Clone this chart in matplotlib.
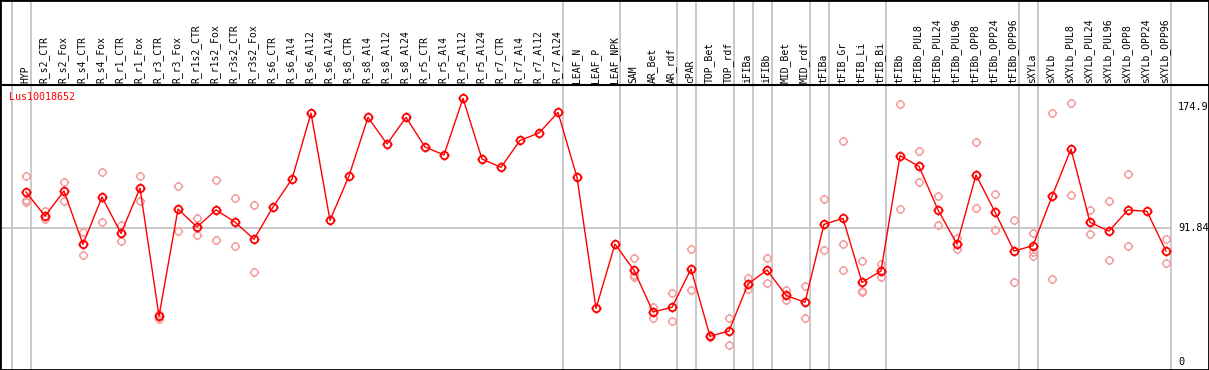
import numpy as np
import matplotlib.pyplot as plt
from matplotlib.path import Path

# tissue / sample names
labels = ["HYP", "R_s2_CTR", "R_s2_Fox", "R_s4_CTR", "R_s4_Fox", "R_r1_CTR", "R_r1_Fox",
          "R_r3_CTR", "R_r3_Fox", "R_r1s2_CTR", "R_r1s2_Fox", "R_r3s2_CTR", "R_r3s2_Fox",
          "R_s6_CTR", "R_s6_Al4", "R_s6_Al12", "R_s6_Al24", "R_s8_CTR", "R_s8_Al4",
          "R_s8_Al12", "R_s8_Al24", "R_r5_CTR", "R_r5_Al4", "R_r5_Al12", "R_r5_Al24",
          "R_r7_CTR", "R_r7_Al4", "R_r7_Al12", "R_r7_Al24", "LEAF_N", "LEAF_P", "LEAF_NPK",
          "SAM", "AR_Bet", "AR_rdf", "cPAR", "TOP_Bet", "TOP_rdf", "iFIBa", "iFIBb",
          "MID_Bet", "MID_rdf", "tFIBa", "tFIB_Gr", "tFIB_Li", "tFIB_Bi", "tFIBb",
          "tFIBb_PUL8", "tFIBb_PUL24", "tFIBb_PUL96", "tFIBb_OPP8", "tFIBb_OPP24",
          "tFIBb_OPP96", "sXYLa", "sXYLb", "sXYLb_PUL8", "sXYLb_PUL24", "sXYLb_PUL96",
          "sXYLb_OPP8", "sXYLb_OPP24", "sXYLb_OPP96"]

# mean expression
mean = [116.6, 100.1, 117.3, 80.7, 113.2, 88.2, 119.3, 31.5, 104.9, 92.6, 104.3, 96.0, 84.2,
        106.3, 125.5, 170.7, 97.2, 127.6, 167.8, 149.5, 167.8, 147.5, 142.0, 180.8, 139.2,
        133.5, 152.0, 157.1, 171.2, 126.7, 36.8, 80.9,
        62.9, 34.3, 37.5, 63.8, 17.6, 21.3, 53.5, 63.1, 45.7, 40.9, 94.4, 98.5, 54.6, 62.4,
        141.5, 134.2, 104.3, 80.9, 128.3, 102.9, 76.1, 79.8, 113.6, 146.1, 95.8, 89.8,
        104.3, 103.3, 76.1]

# replicate values
reps = [[127.4, 111.1, 109.7], [103.3, 97.9], [123.5, 110.2], [88.9, 73.4], [130.3, 95.8],
        [94.2, 82.8], [127.4, 110.2], [32.9, 29.7], [120.5, 89.6], [98.8, 86.9],
        [124.8, 83.5], [112.5, 79.6], [107.5, 61.7],
        [], [], [], [], [], [], [], [], [], [], [], [], [], [], [], [], [], [], [],
        [71.1, 60.0, 58.0], [37.5, 30.4], [47.3, 28.1], [77.5, 49.4], [18.5, 17.0],
        [30.4, 11.4], [57.6, 49.8], [71.1, 54.2], [49.6, 42.3], [52.1, 30.0],
        [111.8, 76.6], [151.3, 80.9, 62.9], [69.0, 48.7, 47.8], [67.4, 58.1],
        [177.0, 104.9], [144.7, 123.2], [113.6, 94.0], [84.8, 77.5], [150.7, 105.6],
        [115.0, 90.5], [97.4, 54.9], [88.2, 75.7, 72.9], [170.8, 56.9], [177.4, 114.3],
        [104.0, 87.6], [110.4, 69.7], [128.9, 79.6], [], [84.4, 67.9]]

# group separators (after these indices)
breaks = [-1, 0, 28, 31, 34, 35, 37, 38, 39, 41, 42, 45, 52, 53, 60]
mid_val = 91.84
max_val = 174.9

# circle marker with little ticks
circ = Path.unit_circle()
verts = list(circ.vertices)
codes = list(circ.codes)
for dx, dy in [(0, 1), (0, -1), (1, 0), (-1, 0)]:
    verts += [(dx * 1.0, dy * 1.0), (dx * 1.35, dy * 1.35)]
    codes += [Path.MOVETO, Path.LINETO]
sun = Path(verts, codes)

fig = plt.figure(figsize=(12.09, 3.70), dpi=100)
ax = fig.add_axes([0, 0, 1, 1])
ax.set_xlim(-26 / 19, (1209 - 26) / 19)
ax.set_ylim(-8 / 1.458, 362 / 1.458)
ax.axis("off")

x = np.arange(len(labels))
top = (362 - 85) / 1.458

for b in breaks:
    ax.axvline(b + 0.26, color="#c0c0c0", lw=1.2, zorder=1)
ax.plot([-2, 60.26], [mid_val, mid_val], color="#c0c0c0", lw=1.2, zorder=1)
ax.axhline(top, color="black", lw=1.5, zorder=2)

for i, r in enumerate(reps):
    if r:
        ax.plot([i] * len(r), r, ls="none", marker=sun, ms=6.8, mfc="none",
                mec="#f4a0a0", mew=1.1, zorder=3)

ax.plot(x, mean, color="red", lw=1.0, marker=sun, ms=7.2, mfc="none", mec="red",
        mew=1.3, zorder=4)

for i, lab in enumerate(labels):
    ax.text(i - 0.05, top + 1.6, lab, rotation=90, ha="center", va="bottom",
            fontsize=7, family="DejaVu Sans Mono")

ax.text(-0.9, (362 - 97) / 1.458, "Lus10018652", color="red", fontsize=7.2,
        family="DejaVu Sans Mono", va="center", ha="left")

xr = (1178 - 26) / 19
for v in [max_val, mid_val, 0]:
    ax.text(xr, v, f"{v:g}", fontsize=7.4, family="DejaVu Sans Mono",
            va="center", ha="left")

# border
for sp in [(0, 0, 0, 1), (1, 1, 0, 1), (0, 1, 0, 0), (0, 1, 1, 1)]:
    fig.add_artist(plt.Line2D([sp[0], sp[1]], [sp[2], sp[3]], color="black",
                              lw=2, transform=fig.transFigure))

fig.savefig("out.png", dpi=100)
